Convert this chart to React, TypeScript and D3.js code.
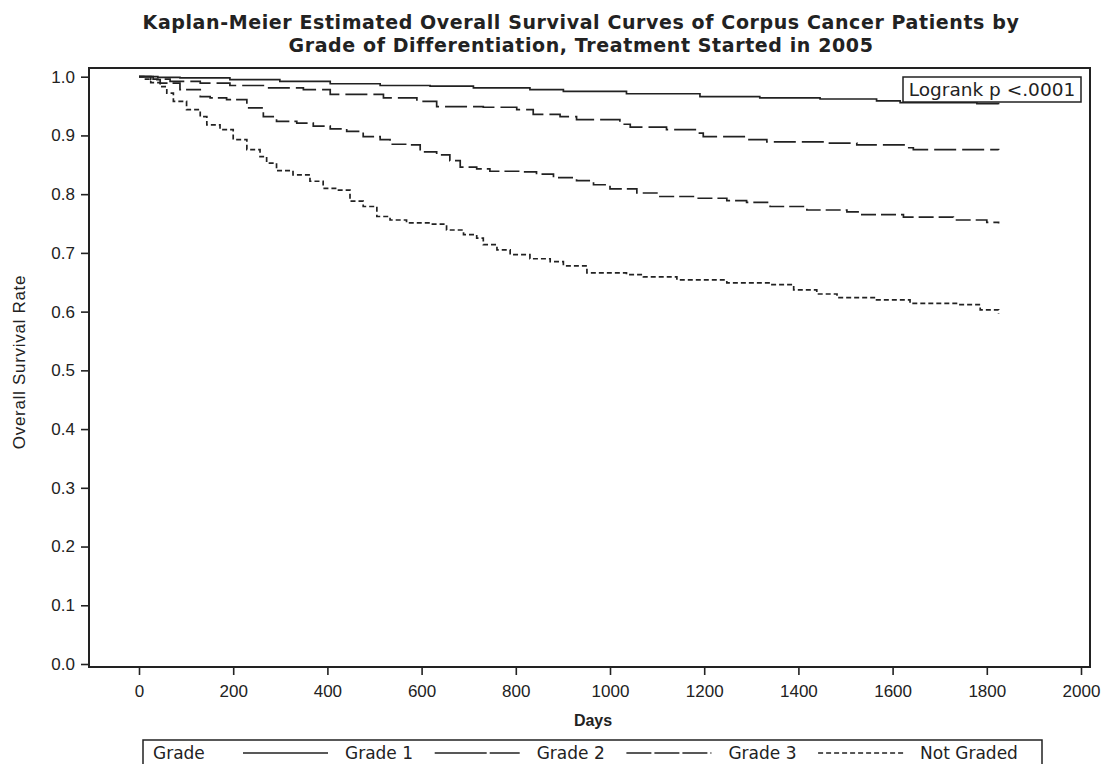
import React, { useEffect, useRef } from 'react';
import * as d3 from 'd3';

const WIDTH = 1103;
const HEIGHT = 764;

// plot frame
const frame = { left: 89, right: 1090, top: 68, bottom: 667 };

const titleLines = [
  'Kaplan-Meier Estimated Overall Survival Curves of Corpus Cancer Patients by',
  'Grade of Differentiation, Treatment Started in 2005'
];
const xTicks = [0, 200, 400, 600, 800, 1000, 1200, 1400, 1600, 1800, 2000];
const yTicks = [0, 0.1, 0.2, 0.3, 0.4, 0.5, 0.6, 0.7, 0.8, 0.9, 1.0];
const seriesNames = ['Grade 1', 'Grade 2', 'Grade 3', 'Not Graded'];

// [days, survival] at each step
const grade1 = [
  [0, 1], [40, 0.999], [87, 0.998], [193, 0.995], [299, 0.992], [406, 0.988], [512, 0.985],
  [618, 0.984], [710, 0.981], [830, 0.978], [901, 0.975], [1035, 0.971], [1191, 0.966],
  [1318, 0.964], [1446, 0.962], [1566, 0.959], [1616, 0.956], [1779, 0.954], [1825, 0.953]
];
const grade2 = [
  [0, 1], [30, 0.996], [66, 0.992], [130, 0.989], [193, 0.985], [264, 0.981], [349, 0.978],
  [406, 0.97], [519, 0.964], [590, 0.958], [632, 0.949], [731, 0.948], [802, 0.944],
  [837, 0.936], [894, 0.932], [929, 0.927], [1021, 0.919], [1043, 0.914], [1120, 0.91],
  [1184, 0.904], [1198, 0.898], [1290, 0.893], [1333, 0.889], [1460, 0.887], [1524, 0.884],
  [1630, 0.879], [1644, 0.876], [1825, 0.875]
];
const grade3 = [
  [0, 1], [25, 0.995], [45, 0.989], [87, 0.978], [130, 0.966], [151, 0.964], [186, 0.961],
  [229, 0.947], [264, 0.932], [292, 0.924], [335, 0.921], [370, 0.916], [406, 0.911],
  [441, 0.907], [476, 0.898], [512, 0.893], [533, 0.885], [575, 0.884], [597, 0.872],
  [632, 0.867], [660, 0.857], [682, 0.846], [717, 0.843], [745, 0.839], [809, 0.838],
  [844, 0.834], [880, 0.828], [929, 0.823], [965, 0.816], [1000, 0.809], [1057, 0.802],
  [1106, 0.796], [1177, 0.793], [1248, 0.789], [1290, 0.786], [1340, 0.779], [1418, 0.773],
  [1503, 0.77], [1531, 0.765], [1623, 0.761], [1729, 0.756], [1800, 0.752], [1825, 0.75]
];
const notGraded = [
  [0, 1], [10, 0.996], [25, 0.99], [45, 0.983], [59, 0.972], [73, 0.958], [101, 0.944],
  [130, 0.932], [144, 0.918], [172, 0.91], [200, 0.893], [229, 0.876], [257, 0.864],
  [271, 0.853], [292, 0.84], [327, 0.833], [363, 0.822], [391, 0.81], [420, 0.807],
  [448, 0.788], [476, 0.779], [505, 0.762], [533, 0.756], [568, 0.751], [618, 0.749],
  [653, 0.739], [689, 0.731], [717, 0.725], [731, 0.714], [760, 0.705], [788, 0.697],
  [830, 0.69], [873, 0.685], [901, 0.678], [951, 0.666], [1035, 0.663], [1071, 0.659],
  [1142, 0.654], [1248, 0.649], [1340, 0.646], [1390, 0.637], [1439, 0.63], [1482, 0.624],
  [1566, 0.62], [1637, 0.614], [1743, 0.612], [1786, 0.603], [1825, 0.597]
];
const seriesData = [grade1, grade2, grade3, notGraded];

// line patterns (plot / legend)
const dashes = ['none', '22,6', '15,5', '5,3'];
const legendDashes = ['none', '52,3,30', '25,3,25,3,25,3,2', '5,3'];

const INK = '#222';

export default function App() {
  const ref = useRef<SVGSVGElement>(null);

  useEffect(() => {
    const svg = d3.select(ref.current);
    svg.selectAll('*').remove();

    const x = d3.scaleLinear().domain([0, 2000]).range([139, 1081]);
    const y = d3.scaleLinear().domain([0, 1]).range([664, 76.7]);

    // title
    svg
      .append('g')
      .selectAll('text')
      .data(titleLines)
      .enter()
      .append('text')
      .attr('x', 581)
      .attr('y', (d, i) => 29 + i * 23)
      .attr('text-anchor', 'middle')
      .attr('font-family', 'DejaVu Sans')
      .attr('font-weight', 'bold')
      .attr('font-size', 19)
      .attr('letter-spacing', 0.6)
      .attr('fill', INK)
      .text(d => d);

    // axes
    const xAxis = d3
      .axisBottom(x)
      .tickValues(xTicks)
      .tickFormat(d3.format('d'))
      .tickSize(8)
      .tickPadding(10);
    const gx = svg
      .append('g')
      .attr('transform', `translate(0,${frame.bottom})`)
      .call(xAxis);
    gx.select('.domain').remove();

    const yAxis = d3
      .axisLeft(y)
      .tickValues(yTicks)
      .tickFormat(d3.format('.1f'))
      .tickSize(8)
      .tickPadding(6);
    const gy = svg
      .append('g')
      .attr('transform', `translate(${frame.left},0)`)
      .call(yAxis);
    gy.select('.domain').remove();

    [gx, gy].forEach(g => {
      g.selectAll('line').attr('stroke', INK).attr('stroke-width', 1.6);
      g.selectAll('text')
        .attr('font-family', 'Liberation Sans')
        .attr('font-size', 17)
        .attr('fill', INK);
    });

    // frame
    svg
      .append('rect')
      .attr('x', frame.left)
      .attr('y', frame.top)
      .attr('width', frame.right - frame.left)
      .attr('height', frame.bottom - frame.top)
      .attr('fill', 'none')
      .attr('stroke', INK)
      .attr('stroke-width', 2);

    // curves
    const line = d3
      .line<number[]>()
      .x(d => x(d[0]))
      .y(d => y(d[1]))
      .curve(d3.curveStepAfter);

    svg
      .append('g')
      .selectAll('path')
      .data(seriesData)
      .enter()
      .append('path')
      .attr('d', d => line(d))
      .attr('fill', 'none')
      .attr('stroke', INK)
      .attr('stroke-width', 1.7)
      .attr('stroke-dasharray', (d, i) => dashes[i]);

    // logrank inset
    svg
      .append('rect')
      .attr('x', 903)
      .attr('y', 77)
      .attr('width', 178)
      .attr('height', 25)
      .attr('fill', 'white')
      .attr('stroke', INK)
      .attr('stroke-width', 1.5);
    svg
      .append('text')
      .attr('x', 992)
      .attr('y', 96)
      .attr('text-anchor', 'middle')
      .attr('font-family', 'DejaVu Sans')
      .attr('font-size', 18.5)
      .attr('fill', INK)
      .text('Logrank p <.0001');

    // axis labels
    svg
      .append('text')
      .attr('x', 593)
      .attr('y', 726)
      .attr('text-anchor', 'middle')
      .attr('font-family', 'Liberation Sans')
      .attr('font-weight', 'bold')
      .attr('font-size', 16)
      .attr('fill', INK)
      .text('Days');
    svg
      .append('text')
      .attr('transform', 'translate(25,362) rotate(-90)')
      .attr('text-anchor', 'middle')
      .attr('font-family', 'Liberation Sans')
      .attr('font-size', 17)
      .attr('letter-spacing', 0.7)
      .attr('fill', INK)
      .text('Overall Survival Rate');

    // legend
    const legend = svg.append('g');
    legend
      .append('rect')
      .attr('x', 143)
      .attr('y', 740)
      .attr('width', 899)
      .attr('height', 40)
      .attr('fill', 'none')
      .attr('stroke', INK)
      .attr('stroke-width', 1.5);
    legend
      .append('text')
      .attr('x', 153)
      .attr('y', 759)
      .attr('font-family', 'DejaVu Sans')
      .attr('font-size', 17)
      .attr('fill', INK)
      .text('Grade');
    const items = legend
      .selectAll('g.item')
      .data(seriesNames)
      .enter()
      .append('g')
      .attr('class', 'item')
      .attr('transform', (d, i) => `translate(${243 + i * 191.7},0)`);
    items
      .append('line')
      .attr('x1', 0)
      .attr('x2', 85)
      .attr('y1', 753)
      .attr('y2', 753)
      .attr('stroke', INK)
      .attr('stroke-width', 1.5)
      .attr('stroke-dasharray', (d, i) => legendDashes[i]);
    items
      .append('text')
      .attr('x', 102)
      .attr('y', 759)
      .attr('font-family', 'DejaVu Sans')
      .attr('font-size', 17)
      .attr('fill', INK)
      .text(d => d);
  }, []);

  return (
    <svg
      ref={ref}
      width={WIDTH}
      height={HEIGHT}
      style={{ position: 'absolute', left: 0, top: 0, background: 'white' }}
    />
  );
}
